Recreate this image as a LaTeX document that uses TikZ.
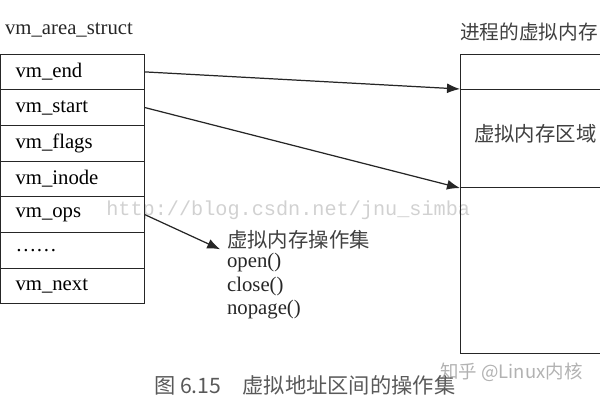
\documentclass[tikz,border=0pt]{standalone}
\usepackage{fontspec}
\setmainfont{Liberation Serif}
\newfontfamily\cjk{Noto Sans CJK SC}
\newfontfamily\wmfont{Liberation Mono}
\usetikzlibrary{arrows.meta}
\tikzset{cell/.style={draw=black!85, line width=0.6pt, minimum width=2.88cm,
   minimum height=0.714cm, text width=2.28cm, inner xsep=0.3cm,
   align=left, font=\fontsize{11.8}{14}\selectfont},
 label text/.style={anchor=west, inner sep=1pt, text=black!85,
   font=\fontsize{11.8}{14}\selectfont},
 cjk text/.style={anchor=west, inner sep=1pt, text=black!75,
   font=\fontsize{11.6}{14}\selectfont\cjk},
 frame/.style={draw=black!85, line width=0.6pt, anchor=north west,
   inner sep=0pt, minimum width=3.6cm},
 arr/.style={draw=black!85, line width=0.7pt, -{Latex[length=2.6mm,width=2mm]}},
 watermark/.style={anchor=west, inner sep=0pt, text=black!18},
 }

\begin{document}
\begin{tikzpicture}[x=0.02cm, y=-0.02cm]
        \useasboundingbox (0,0) rectangle (600,400);
        \clip (0,0) rectangle (600,400);
        % watermarks
        \node[watermark, font=\fontsize{11.5}{12}\selectfont\wmfont] (csdn) at (106,210) {http://blog.csdn.net/jnu\_simba};
        \node[watermark, text=black!30, font=\fontsize{10.5}{12}\selectfont\cjk] (zhihu) at (440,372) {知乎 @Linux内核};
        % vm_area_struct
        \node[label text] (title) at (3,30) {vm\_area\_struct};
        \node[cell] (end) at (72.5,71.9) {vm\_end};
        \node[cell] (start) at (72.5,107.6) {vm\_start};
        \node[cell] (flags) at (72.5,143.3) {vm\_flags};
        \node[cell] (inode) at (72.5,179.0) {vm\_inode};
        \node[cell] (ops) at (72.5,214.7) {vm\_ops};
        \node[cell] (dots) at (72.5,250.4) {……};
        \node[cell] (next) at (72.5,286.1) {vm\_next};
        % address space
        \node[cjk text, font=\fontsize{11.2}{14}\selectfont\cjk] (spacetitle) at (458,32) {进程的虚拟内存};
        \node[frame, minimum height=5.98cm] (space) at (460,54) {};
        \node[frame, minimum height=1.96cm] (region) at (460,89) {};
        \node[cjk text] (regiontext) at (472,134) {虚拟内存区域};
        % operations
        \node[cjk text] (opshead) at (225,240) {虚拟内存操作集};
        \node[label text] (open) at (225,263) {open()};
        \node[label text] (close) at (225,287) {close()};
        \node[label text] (nopage) at (225,310) {nopage()};
        \draw[arr] (end.east) -- (region.north west);
        \draw[arr] (start.east) -- (region.south west);
        \draw[arr, shorten >=3pt] (ops.east) -- (opshead.south west);
        % caption
        \node[cjk text, text=black!65, font=\fontsize{12.1}{14}\selectfont\cjk] (caption) at (152,385) {图 6.15\enspace\enspace 虚拟地址区间的操作集};
\end{tikzpicture}
\end{document}
